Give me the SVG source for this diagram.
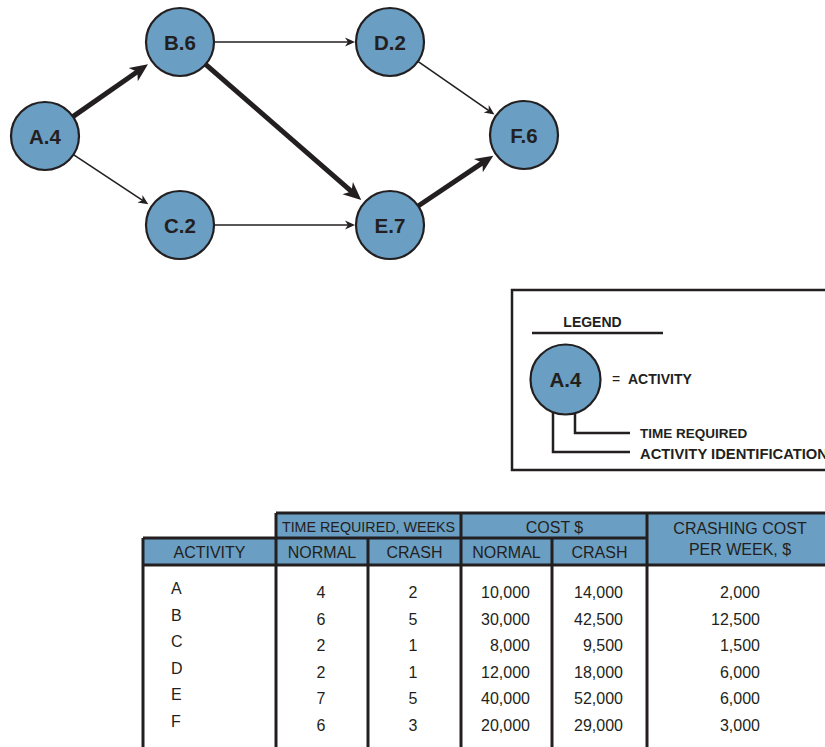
<svg xmlns="http://www.w3.org/2000/svg" width="825" height="747" viewBox="0 0 825 747">
<defs>
<style>
.node{fill:#6a9ec2;stroke:#231f20;stroke-width:2.2}
.nl{font-family:"Liberation Sans",Arial,sans-serif;font-weight:bold;font-size:20.5px;fill:#231f20;text-anchor:middle}
.thin{stroke:#231f20;stroke-width:1.6;fill:none;marker-end:url(#ahThin)}
.thick{stroke:#231f20;stroke-width:5;fill:none;marker-end:url(#ahThick)}
.lg{font-family:"Liberation Sans",Arial,sans-serif;font-weight:bold;font-size:14px;fill:#231f20}
.ln{stroke:#231f20;stroke-width:2.5;fill:none}
.th{font-family:"Liberation Sans",Arial,sans-serif;font-size:16px;fill:#231f20;text-anchor:middle}
.td{font-family:"Liberation Sans",Arial,sans-serif;font-size:16px;fill:#231f20}
.hdr{fill:#6a9ec2}
.grid{stroke:#231f20;stroke-width:3;fill:none}
</style>
<marker id="ahThick" viewBox="-20 -9 22 18" refX="-10" refY="0" markerWidth="22" markerHeight="18" markerUnits="userSpaceOnUse" orient="auto"><path d="M0,0 L-18,-8 L-13,0 L-18,8 Z" fill="#231f20"/></marker>
<marker id="ahThin" viewBox="-12 -6 14 12" refX="-5" refY="0" markerWidth="14" markerHeight="12" markerUnits="userSpaceOnUse" orient="auto"><path d="M0,0 L-10,-4.5 L-7,0 L-10,4.5 Z" fill="#231f20"/></marker>
</defs>
<rect width="825" height="747" fill="#ffffff"/>

<g id="connectors">
<line class="thick" x1="72.9" y1="116.6" x2="139.8" y2="70.0"/>
<line class="thick" x1="205.6" y1="64.3" x2="353.7" y2="193.4"/>
<line class="thick" x1="418.2" y1="206.0" x2="485.0" y2="161.2"/>
<line class="thin" x1="73.4" y1="154.7" x2="144.1" y2="201.4"/>
<line class="thin" x1="214" y1="42" x2="350" y2="42"/>
<line class="thin" x1="214" y1="225" x2="350" y2="225"/>
<line class="thin" x1="417.9" y1="61.4" x2="490.3" y2="111.6"/>
</g>

<g id="node-A"><circle class="node" cx="45" cy="136" r="34"/><text class="nl" x="45" y="143.5">A.4</text></g>
<g id="node-B"><circle class="node" cx="180" cy="42" r="34"/><text class="nl" x="180" y="49.5">B.6</text></g>
<g id="node-C"><circle class="node" cx="180" cy="225" r="34"/><text class="nl" x="180" y="232.5">C.2</text></g>
<g id="node-D"><circle class="node" cx="390" cy="42" r="34"/><text class="nl" x="390" y="49.5">D.2</text></g>
<g id="node-E"><circle class="node" cx="390" cy="225" r="34"/><text class="nl" x="390" y="232.5">E.7</text></g>
<g id="node-F"><circle class="node" cx="524" cy="135" r="34"/><text class="nl" x="524" y="142.5">F.6</text></g>

<g id="legend">
<rect x="512" y="290" width="340" height="180" class="ln"/>
<text class="lg" x="592.5" y="327" text-anchor="middle">LEGEND</text>
<line class="ln" x1="532" y1="333" x2="663" y2="333"/>
<circle class="node" cx="565.5" cy="379.5" r="35"/>
<text class="nl" x="565.5" y="387">A.4</text>
<text class="lg" x="612" y="384" style="font-weight:normal">=</text>
<text class="lg" x="628" y="384">ACTIVITY</text>
<path class="ln" d="M575,413 V433 H630"/>
<path class="ln" d="M553,413 V452 H630"/>
<text class="lg" x="640" y="438" style="font-size:13.5px">TIME REQUIRED</text>
<text class="lg" x="640" y="459" textLength="188" lengthAdjust="spacingAndGlyphs">ACTIVITY IDENTIFICATION</text>
</g>

<g id="table">
<rect class="hdr" x="276" y="513" width="560" height="52"/>
<rect class="hdr" x="143" y="538" width="133" height="27"/>
<path class="grid" d="M276,513 H830 M143,538 H647 M143,565 H830 M143,538 V750 M276,513 V750 M368,538 V750 M461,513 V750 M552,538 V750 M647,513 V750"/>
<text class="th" x="368.5" y="532" style="font-size:14.3px">TIME REQUIRED, WEEKS</text>
<text class="th" x="554.5" y="533">COST $</text>
<text class="th" x="740" y="534">CRASHING COST</text>
<text class="th" x="740" y="555">PER WEEK, $</text>
<text class="th" x="209.5" y="558">ACTIVITY</text>
<text class="th" x="322" y="558">NORMAL</text>
<text class="th" x="414.5" y="558">CRASH</text>
<text class="th" x="506.5" y="558">NORMAL</text>
<text class="th" x="599.5" y="558">CRASH</text>

<g class="td">
<text x="171" y="594">A</text>
<text x="171" y="620.6">B</text>
<text x="171" y="647.2">C</text>
<text x="171" y="673.8">D</text>
<text x="171" y="700.4">E</text>
<text x="171" y="727">F</text>
</g>
<g class="td" text-anchor="middle">
<text x="321" y="598">4</text><text x="413" y="598">2</text>
<text x="321" y="624.6">6</text><text x="413" y="624.6">5</text>
<text x="321" y="651.2">2</text><text x="413" y="651.2">1</text>
<text x="321" y="677.8">2</text><text x="413" y="677.8">1</text>
<text x="321" y="704.4">7</text><text x="413" y="704.4">5</text>
<text x="321" y="731">6</text><text x="413" y="731">3</text>
</g>
<g class="td" text-anchor="end">
<text x="530" y="598">10,000</text><text x="623" y="598">14,000</text><text x="760" y="598">2,000</text>
<text x="530" y="624.6">30,000</text><text x="623" y="624.6">42,500</text><text x="760" y="624.6">12,500</text>
<text x="530" y="651.2">8,000</text><text x="623" y="651.2">9,500</text><text x="760" y="651.2">1,500</text>
<text x="530" y="677.8">12,000</text><text x="623" y="677.8">18,000</text><text x="760" y="677.8">6,000</text>
<text x="530" y="704.4">40,000</text><text x="623" y="704.4">52,000</text><text x="760" y="704.4">6,000</text>
<text x="530" y="731">20,000</text><text x="623" y="731">29,000</text><text x="760" y="731">3,000</text>
</g>
</g>
</svg>
